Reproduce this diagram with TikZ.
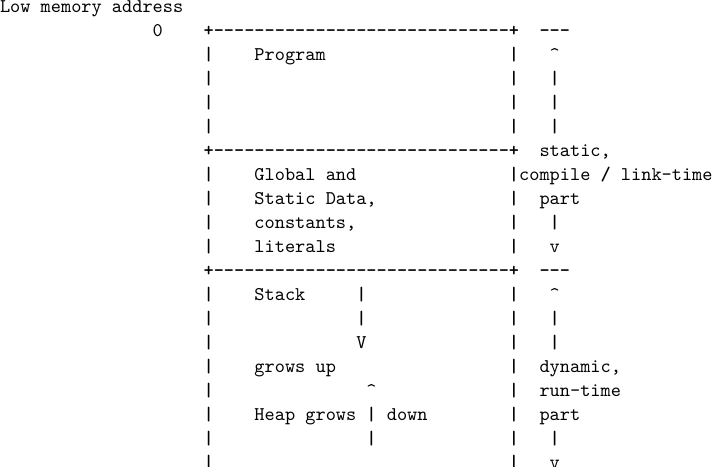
\documentclass[tikz,border=0pt]{standalone}
\newcommand\dashrun[1]{\foreach\dri in {1,...,#1}{-\kern0pt}}
\begin{document}
\begin{tikzpicture}[x=5.25pt,y=-12.377pt,
  t/.style={anchor=base west,inner sep=0pt,outer sep=0pt,font=\ttfamily\fontsize{10}{12}\selectfont},
  bx/.style={anchor=base west,inner sep=0pt,outer sep=0pt,font=\ttfamily\bfseries\fontsize{10}{12}\selectfont}]
\fill[white] (0,0) rectangle (70.04,19.458);
\useasboundingbox (0,0) rectangle (70.04,19.458);
% row 0
\node[t] (lowaddr) at (0,0.54) {Low memory address};
% row 1
\node[t] (zero) at (15,1.54) {0};
\node[bx] (top) at (20,1.54) {+\dashrun{29}+};
\node[bx] (markA) at (53,1.54) {\dashrun{3}};
% box side bars
\foreach \r in {2,3,4,5,7,8,9,10,12,13,14,15,16,17,18,19}{
  \node[bx] (L\r) at (20,\r+0.54) {|};
}
\foreach \r in {2,3,4,5,8,9,10,12,13,14,15,16,17,18,19}{
  \node[bx] (R\r) at (50,\r+0.54) {|};
}
% row 2-5
\node[t] (program) at (25,2.54) {Program};
\node[t] (upA) at (54,2.54) {\textasciicircum};
\foreach \r in {3,4,5}{\node[bx] (sA\r) at (54,\r+0.54) {|};}
% row 6
\node[bx] (mid1) at (20,6.54) {+\dashrun{29}+};
\node[t] (static) at (53,6.54) {static,};
% row 7
\node[t] (global) at (25,7.54) {Global and};
\node[bx] (R7) at (50,7.54) {|};
\node[t] (compile) at (51,7.54) {compile {\bfseries/} link-time};
% row 8-10
\node[t] (sdata) at (25,8.54) {Static Data,};
\node[t] (partA) at (53,8.54) {part};
\node[t] (consts) at (25,9.54) {constants,};
\node[bx] (sA9) at (54,9.54) {|};
\node[t] (literals) at (25,10.54) {literals};
\node[t] (downA) at (54,10.54) {v};
% row 11
\node[bx] (mid2) at (20,11.54) {+\dashrun{29}+};
\node[bx] (markB) at (53,11.54) {\dashrun{3}};
% row 12-19
\node[t] (stack) at (25,12.54) {Stack};
\node[bx] (st12) at (35,12.54) {|};
\node[bx] (st13) at (35,13.54) {|};
\node[t] (stV) at (35,14.54) {V};
\node[t] (upB) at (54,12.54) {\textasciicircum};
\foreach \r in {13,14,18}{\node[bx] (sB\r) at (54,\r+0.54) {|};}
\node[t] (growsup) at (25,15.54) {grows up};
\node[t] (dynamic) at (53,15.54) {dynamic,};
\node[t] (hpup) at (36,16.54) {\textasciicircum};
\node[t] (runtime) at (53,16.54) {run-time};
\node[t] (heap) at (25,17.54) {Heap grows};
\node[bx] (hp17) at (36,17.54) {|};
\node[t] (down) at (38,17.54) {down};
\node[t] (partB) at (53,17.54) {part};
\node[bx] (hp18) at (36,18.54) {|};
\node[t] (downB) at (54,19.54) {v};
\end{tikzpicture}
\end{document}
